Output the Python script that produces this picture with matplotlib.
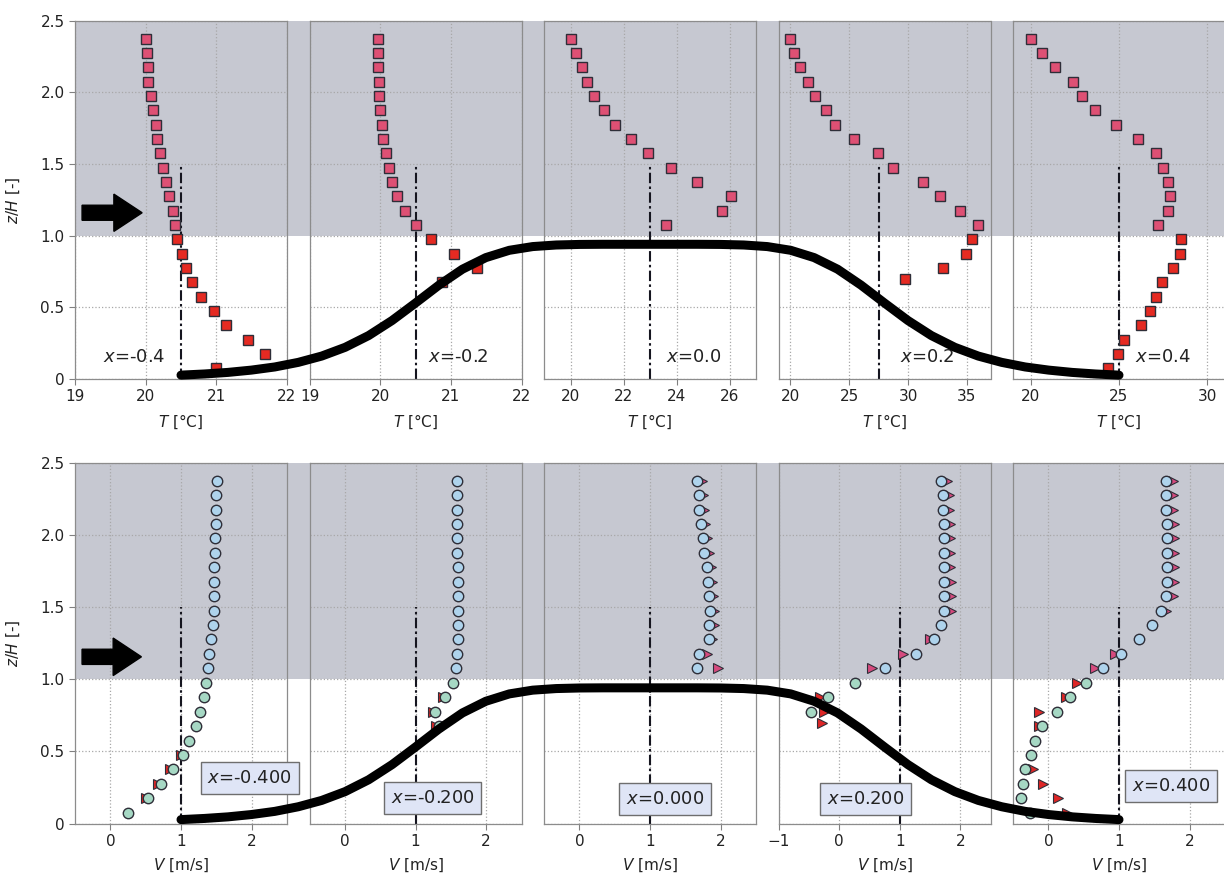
import numpy as np
import matplotlib
matplotlib.use("Agg")
import matplotlib.pyplot as plt
from matplotlib.patches import Rectangle, FancyArrow

plt.rcParams['font.family'] = ['DejaVu Sans']
plt.rcParams['mathtext.fontset'] = 'dejavusans'

# ---------------- data ----------------
z_levels = [2.375, 2.275, 2.175, 2.075, 1.975, 1.875, 1.775, 1.675, 1.575, 1.475,
            1.375, 1.275, 1.175, 1.075, 0.975, 0.875, 0.775, 0.675, 0.575, 0.475,
            0.375, 0.275, 0.175, 0.075]

# Temperature profiles (top row)
T1_z = z_levels
T1 = [20.00, 20.02, 20.03, 20.04, 20.08, 20.11, 20.14, 20.16, 20.20, 20.24, 20.29, 20.33,
      20.38, 20.41, 20.45, 20.51, 20.57, 20.66, 20.79, 20.96, 21.13, 21.45, 21.69, 20.99]
T2_z = z_levels[:18]
T2 = [19.97, 19.97, 19.97, 19.98, 19.99, 20.00, 20.02, 20.04, 20.08, 20.12, 20.17, 20.24,
      20.35, 20.50, 20.72, 21.04, 21.37, 20.88]
T3_z = z_levels[:14]
T3 = [20.0, 20.22, 20.42, 20.62, 20.9, 21.25, 21.67, 22.3, 22.92, 23.78, 24.77, 26.07,
      25.7, 23.6]
T4_z = z_levels[:17] + [0.70]
T4 = [20.0, 20.34, 20.83, 21.5, 22.14, 23.0, 23.8, 25.45, 27.48, 28.68, 31.3, 32.67,
      34.44, 35.94, 35.41, 34.89, 32.93, 29.77]
T5_z = z_levels
T5 = [20.0, 20.63, 21.35, 22.4, 22.88, 23.63, 24.83, 26.08, 27.08, 27.5, 27.75, 27.88,
      27.75, 27.18, 28.5, 28.45, 28.05, 27.43, 27.08, 26.75, 26.23, 25.3, 24.95, 24.38]

# Velocity profiles (bottom row): circles and triangles
V1_z = z_levels
V1 = [1.51, 1.50, 1.49, 1.49, 1.48, 1.48, 1.47, 1.47, 1.47, 1.46, 1.45, 1.43,
      1.39, 1.38, 1.35, 1.32, 1.27, 1.21, 1.12, 1.03, 0.88, 0.71, 0.53, 0.25]
W1_z = [0.475, 0.375, 0.275, 0.175]
W1 = [1.00, 0.85, 0.68, 0.50]

V2_z = z_levels[:18]
V2 = [1.59, 1.59, 1.59, 1.59, 1.59, 1.59, 1.60, 1.60, 1.60, 1.60, 1.60, 1.60,
      1.59, 1.57, 1.53, 1.42, 1.28, 1.33]
W2_z = [0.875, 0.775, 0.675]
W2 = [1.39, 1.25, 1.29]

V3_z = z_levels[:14]
V3 = [1.67, 1.69, 1.70, 1.72, 1.75, 1.77, 1.80, 1.82, 1.83, 1.85, 1.84, 1.83, 1.69, 1.67]
W3_z = z_levels[:14]
W3 = [1.73, 1.75, 1.76, 1.78, 1.81, 1.83, 1.86, 1.88, 1.89, 1.91, 1.90, 1.88, 1.80, 1.96]

V4_z = z_levels[:17]
V4 = [1.69, 1.71, 1.71, 1.73, 1.73, 1.73, 1.73, 1.74, 1.74, 1.74, 1.69, 1.56,
      1.27, 0.76, 0.27, -0.19, -0.47]
W4_z = z_levels[:10] + [1.275, 1.175, 1.075, 0.875, 0.775, 0.695]
W4 = [1.79, 1.81, 1.81, 1.83, 1.83, 1.83, 1.83, 1.84, 1.84, 1.84, 1.50, 1.05, 0.55,
      -0.32, -0.25, -0.28]

V5_z = z_levels
V5 = [1.67, 1.67, 1.67, 1.68, 1.68, 1.68, 1.68, 1.68, 1.67, 1.59, 1.46, 1.28,
      1.035, 0.78, 0.54, 0.31, 0.12, -0.09, -0.19, -0.24, -0.33, -0.36, -0.39, -0.26]
W5_z = z_levels[:10] + [1.175, 1.075, 0.975, 0.875, 0.775, 0.675, 0.375, 0.275, 0.175, 0.075]
W5 = [1.77, 1.77, 1.77, 1.78, 1.78, 1.78, 1.78, 1.78, 1.77, 1.67, 0.94, 0.66, 0.40,
      0.25, -0.13, -0.13, -0.21, -0.07, 0.13, 0.27]

T_series = [(T1_z, T1), (T2_z, T2), (T3_z, T3), (T4_z, T4), (T5_z, T5)]
V_series = [(V1_z, V1), (V2_z, V2), (V3_z, V3), (V4_z, V4), (V5_z, V5)]
W_series = [(W1_z, W1), (W2_z, W2), (W3_z, W3), (W4_z, W4), (W5_z, W5)]

top_labels = ["-0.4", "-0.2", "0.0", "0.2", "0.4"]
bottom_labels = ["-0.400", "-0.200", "0.000", "0.200", "0.400"]
T_ref = [20.5, 20.5, 23.0, 27.5, 25.0]
V_ref = [1.0, 1.0, 1.0, 1.0, 1.0]
T_xlim = [(19, 22), (19, 22), (19, 27), (19, 37), (19, 31)]
T_ticks = [[19, 20, 21, 22], [19, 20, 21, 22], [20, 22, 24, 26], [20, 25, 30, 35], [20, 25, 30]]
V_xlim = [(-0.5, 2.5), (-0.5, 2.5), (-0.5, 2.5), (-1, 2.5), (-0.5, 2.5)]
V_ticks = [[0, 1, 2], [0, 1, 2], [0, 1, 2], [-1, 0, 1, 2], [0, 1, 2]]
V_ticklabels = [["0", "1", "2"], ["0", "1", "2"], ["0", "1", "2"],
                ["\u22121", "0", "1", "2"], ["0", "1", "2"]]
y_ticks = [0, 0.5, 1.0, 1.5, 2.0, 2.5]
y_ticklabels = ["0", "0.5", "1.0", "1.5", "2.0", "2.5"]

# hill profile (x/H, z/H)
hill_x = [-0.40, -0.38, -0.36, -0.34, -0.32, -0.30, -0.28, -0.26, -0.24, -0.22, -0.20,
          -0.18, -0.16, -0.14, -0.12, -0.10, -0.08, -0.06, -0.04, -0.02, 0.00,
          0.02, 0.04, 0.06, 0.08, 0.10, 0.12, 0.14, 0.16, 0.18, 0.20,
          0.22, 0.24, 0.26, 0.28, 0.30, 0.32, 0.34, 0.36, 0.38, 0.40]
hill_z = [0.027, 0.035, 0.046, 0.062, 0.084, 0.116, 0.160, 0.221, 0.303, 0.408, 0.530,
          0.655, 0.766, 0.847, 0.898, 0.924, 0.935, 0.939, 0.940, 0.940, 0.940,
          0.940, 0.940, 0.939, 0.935, 0.924, 0.898, 0.847, 0.766, 0.655, 0.530,
          0.408, 0.303, 0.221, 0.160, 0.116, 0.084, 0.062, 0.046, 0.035, 0.027]
hill_positions = [-0.4, -0.2, 0.0, 0.2, 0.4]

# ---------------- layout ----------------
W, H = 1224, 882
fig = plt.figure(figsize=(W / 100, H / 100), dpi=100)
left0, step, wpx = 75.0, 234.5, 212.0
rows = {'top': (379.0, 20.7), 'bot': (823.5, 462.7)}

GRAY = '#c6c8d1'
SQ_UP, SQ_LO = '#de5074', '#e52a22'
CI_UP, CI_LO = '#aed3ec', '#a6d8c4'
TR_UP, TR_LO = '#d64a7e', '#de2626'
EDGE = '#2e2e38'

for key in rows:
    yb, yt = rows[key]
    hfrac = (yb - yt) / H
    y1 = 1 - yb / H + hfrac * (1.0 / 2.5)
    rect = Rectangle((left0 / W, y1), 1 - left0 / W, (1 - yt / H) - y1,
                     transform=fig.transFigure, facecolor=GRAY, edgecolor='none', zorder=-1)
    fig.add_artist(rect)


def style_axes(ax, i, xlim, xticks, xticklabels=None):
    ax.set_facecolor('none')
    ax.set_xlim(*xlim)
    ax.set_ylim(0, 2.5)
    ax.set_xticks(xticks)
    if xticklabels is not None:
        ax.set_xticklabels(xticklabels)
    ax.set_yticks(y_ticks)
    ax.set_axisbelow(True)
    ax.grid(True, ls=':', color='#a8a8a8', lw=0.9)
    for s in ax.spines.values():
        s.set_color('#8c8c8c')
        s.set_linewidth(0.9)
    ax.tick_params(direction='out', length=4, color='#808080', labelcolor='#222222',
                   labelsize=11)
    if i == 0:
        ax.set_yticklabels(y_ticklabels)
        ax.set_ylabel(r'$z/H$ [-]', fontsize=11, color='#222222')
        ax.yaxis.set_label_coords(-0.25, 0.5)
    else:
        ax.tick_params(axis='y', length=0, labelleft=False)


dash = (0, (5, 1.6, 1.2, 1.6))

# top row
yb, yt = rows['top']
for i in range(5):
    ax = fig.add_axes([(left0 + step * i) / W, 1 - yb / H, wpx / W, (yb - yt) / H])
    style_axes(ax, i, T_xlim[i], T_ticks[i])
    ax.set_xlabel(r'$T$ [°C]', fontsize=11, color='#222222')
    ax.xaxis.set_label_coords(0.5, -0.095)
    ax.plot([T_ref[i], T_ref[i]], [0, 1.5], ls=dash, color='#15151f', lw=1.5, zorder=2)
    z = np.array(T_series[i][0]); t = np.array(T_series[i][1])
    up = z > 1.0
    ax.plot(t[up], z[up], 's', ms=7, mfc=SQ_UP, mec=EDGE, mew=1.0, ls='none', zorder=4)
    ax.plot(t[~up], z[~up], 's', ms=7, mfc=SQ_LO, mec=EDGE, mew=1.0, ls='none', zorder=4)
    xt = 0.13 if i == 0 else (0.56 if i == 1 else 0.575)
    ax.text(xt, 0.062, r'$x$=' + top_labels[i], transform=ax.transAxes, fontsize=13,
            va='center', ha='left', color='#222222')
    if i == 0:
        ax.add_patch(FancyArrow(19.1, 1.16, 0.85, 0, width=0.105, head_width=0.26,
                                head_length=0.40, length_includes_head=True,
                                color='black', zorder=6))

# bottom row
box_pos = [(0.825, 0.315), (0.58, 0.177), (0.57, 0.17), (0.41, 0.17), (0.745, 0.26)]
yb, yt = rows['bot']
for i in range(5):
    ax = fig.add_axes([(left0 + step * i) / W, 1 - yb / H, wpx / W, (yb - yt) / H])
    style_axes(ax, i, V_xlim[i], V_ticks[i], V_ticklabels[i])
    ax.set_xlabel(r'$V$ [m/s]', fontsize=11, color='#222222')
    ax.xaxis.set_label_coords(0.5, -0.093)
    ax.plot([V_ref[i], V_ref[i]], [0, 1.5], ls=dash, color='#15151f', lw=1.5, zorder=2)
    z = np.array(W_series[i][0]); w = np.array(W_series[i][1])
    up = z > 1.0
    ax.plot(w[up], z[up], '>', ms=7.5, mfc=TR_UP, mec=EDGE, mew=0.8, ls='none', zorder=3)
    ax.plot(w[~up], z[~up], '>', ms=7.5, mfc=TR_LO, mec=EDGE, mew=0.8, ls='none', zorder=3)
    z = np.array(V_series[i][0]); v = np.array(V_series[i][1])
    up = z > 1.0
    ax.plot(v[up], z[up], 'o', ms=7.5, mfc=CI_UP, mec=EDGE, mew=1.0, ls='none', zorder=4)
    ax.plot(v[~up], z[~up], 'o', ms=7.5, mfc=CI_LO, mec=EDGE, mew=1.0, ls='none', zorder=4)
    bx, bz = box_pos[i]
    ax.text(bx, bz / 2.5, r'$x$=' + bottom_labels[i], transform=ax.transAxes, fontsize=13,
            va='center', ha='center', color='#222222', clip_on=False, zorder=7,
            bbox=dict(boxstyle='square,pad=0.38', fc='#dfe5f6', ec='#6e6e6e', lw=1.0))
    if i == 0:
        ax.add_patch(FancyArrow(-0.40, 1.155, 0.84, 0, width=0.105, head_width=0.26,
                                head_length=0.40, length_includes_head=True,
                                color='black', zorder=6))

# hill overlay (figure-wide)
px_per_unit = step / (hill_positions[1] - hill_positions[0])
x_left = hill_positions[0] - (left0 + wpx / 2) / px_per_unit
x_right = x_left + W / px_per_unit
for key in rows:
    yb, yt = rows[key]
    axh = fig.add_axes([0, 1 - yb / H, 1, (yb - yt) / H], zorder=5)
    axh.set_xlim(x_left, x_right)
    axh.set_ylim(0, 2.5)
    axh.axis('off')
    axh.patch.set_alpha(0)
    axh.plot(hill_x, hill_z, color='black', lw=6.5, solid_capstyle='round',
             solid_joinstyle='round', clip_on=False)

fig.savefig('out.png', dpi=100)
